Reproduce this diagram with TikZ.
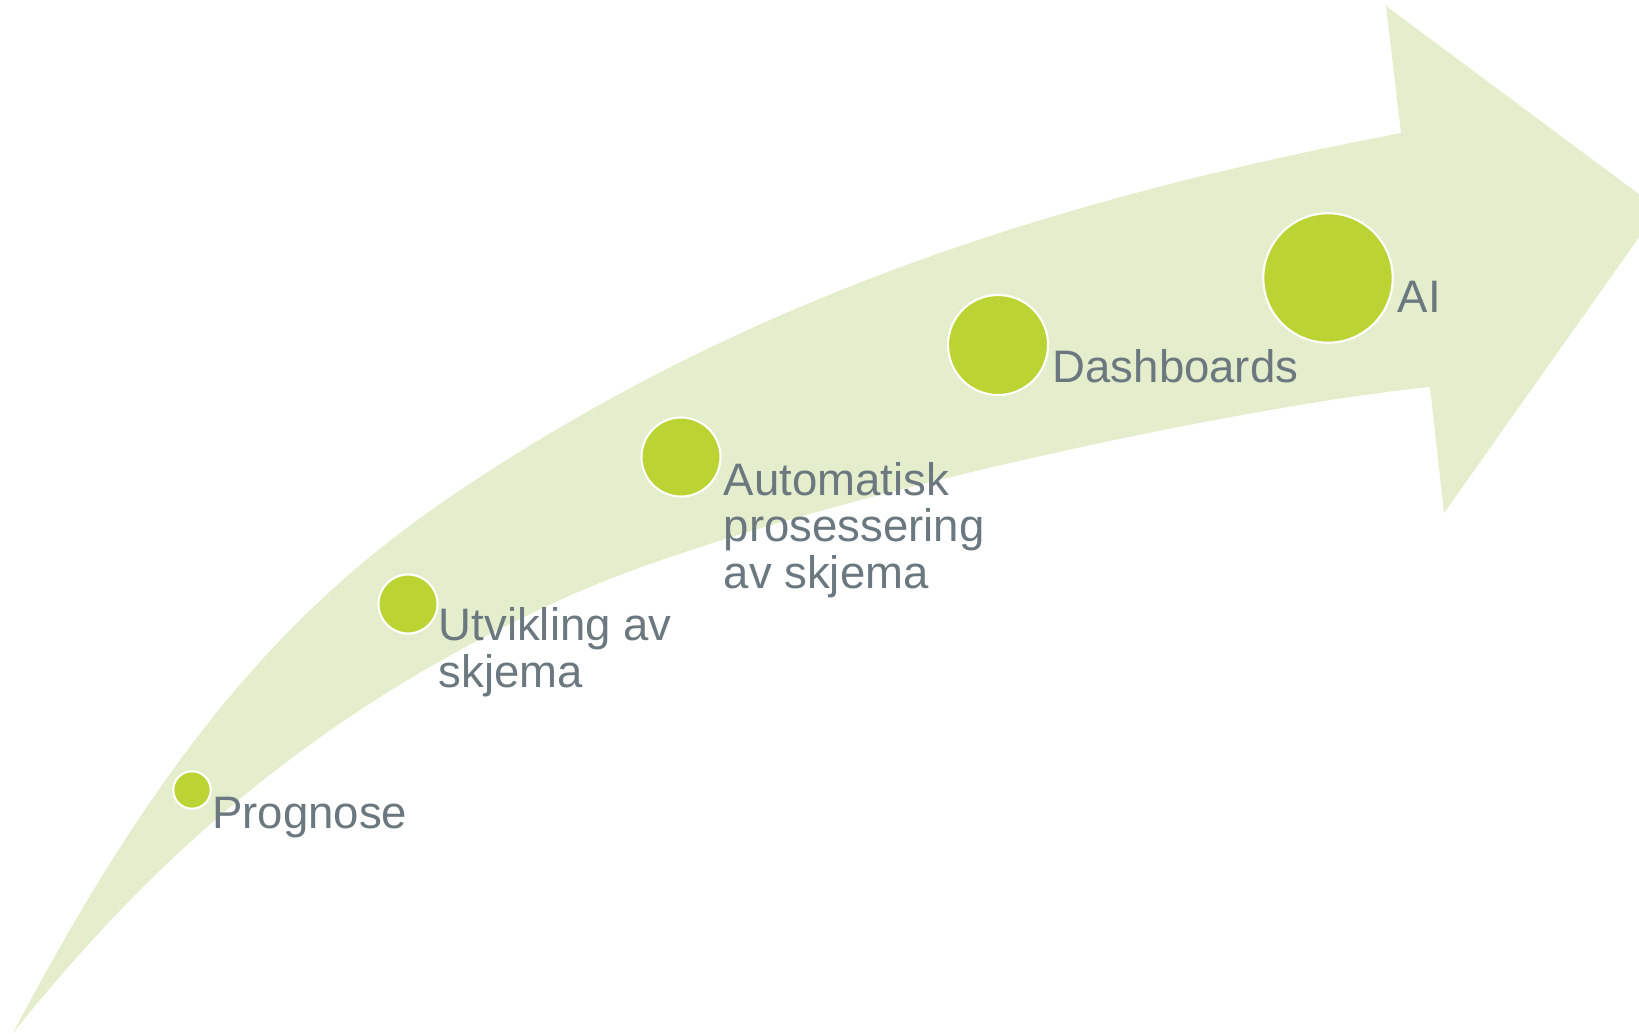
\documentclass[tikz,border=0pt]{standalone}
\usepackage{fontspec}
\setmainfont{Liberation Sans}
\definecolor{arrowfill}{RGB}{229,238,204}
\definecolor{dotfill}{RGB}{187,212,51}
\definecolor{labeltext}{RGB}{108,120,128}
\begin{document}
\begin{tikzpicture}[x=0.01cm,y=-0.01cm,
  dot/.style={circle, fill=dotfill, draw=white, line width=0.6pt, inner sep=0pt},
  lbl/.style={anchor=base west, inner sep=0pt, text=labeltext,
              font=\fontsize{12.95}{13.2}\selectfont, align=left}]
\useasboundingbox (0,0) rectangle (1639,1033);
\begin{scope}
\clip (0,0) rectangle (1639,1033);
\fill[arrowfill]
  (13,1033) .. controls (163,748) and (290,606) .. (450,497)
  .. controls (750,293) and (1071,196) .. (1401,133)
  -- (1386,6) -- (1659,209) -- (1444,513) -- (1430,387)
  .. controls (1230,407) and (760,508) .. (560,600)
  .. controls (340,701) and (173,833) .. (13,1033)
  -- cycle;
\end{scope}
\node[dot, minimum size=0.374cm] (d1) at (192,790) {};
\node[dot, minimum size=0.59cm]  (d2) at (408,604) {};
\node[dot, minimum size=0.79cm]  (d3) at (681,457) {};
\node[dot, minimum size=1.0cm]   (d4) at (998,345) {};
\node[dot, minimum size=1.294cm] (d5) at (1328,278) {};
\node[lbl] (t1) at (211.5,828) {Prognose};
\node[lbl] (t2) at (438,687) {Utvikling av\\skjema};
\node[lbl] (t3) at (723,588) {Automatisk\\prosessering\\av skjema};
\node[lbl] (t4) at (1052,382) {Dashboards};
\node[lbl] (t5) at (1397,312) {AI};
\end{tikzpicture}
\end{document}
